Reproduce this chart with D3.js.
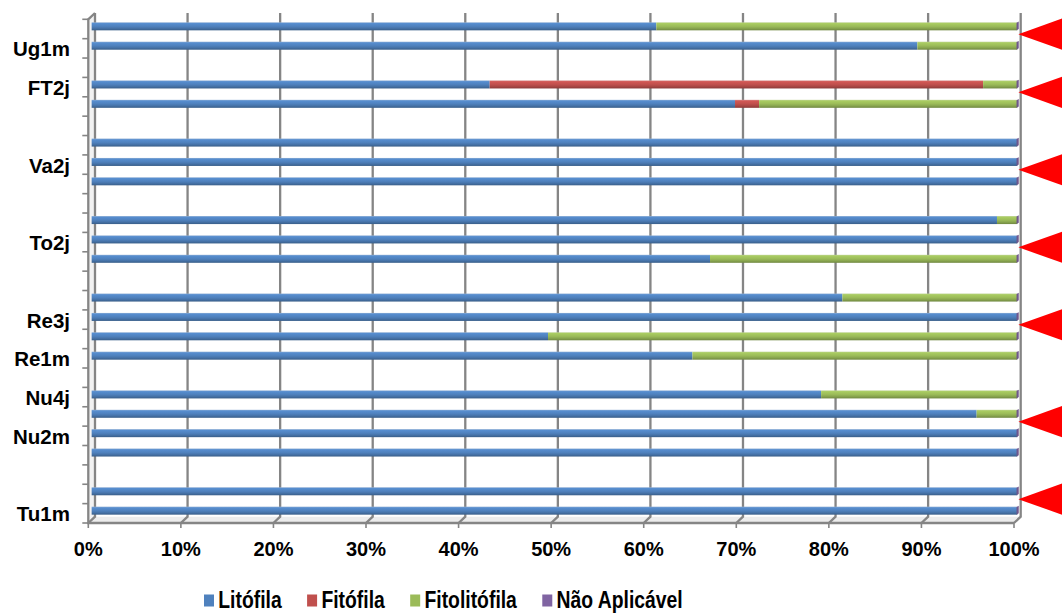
<!DOCTYPE html>
<html>
<head>
<meta charset="utf-8">
<script src="https://cdn.jsdelivr.net/npm/d3@7"></script>
<style>
  html, body { margin: 0; padding: 0; background: #fff; }
  svg { display: block; font-family: "Liberation Sans", Arial, sans-serif; }
</style>
</head>
<body>
<svg id="chart" width="1062" height="613"></svg>
<script>
// Rows listed top to bottom; only every other row carries a visible label
const categories = ["", "Ug1m", "", "FT2j", "", "", "", "Va2j", "", "", "", "To2j", "",
                    "", "", "Re3j", "", "Re1m", "", "Nu4j", "", "Nu2m", "", "", "", "Tu1m"];

const seriesNames = ["Litófila", "Fitófila", "Fitolitófila", "Não Aplicável"];
const seriesColors = ["#4F81BD", "#C0504D", "#9BBB59", "#8064A2"];

// Percent shares per row
const litofila     = [61.0, 89.2, 0, 43.0, 69.5, 0, 100, 100, 100, 0, 97.8, 100, 66.8,
                      0, 81.1, 100, 49.3, 64.9, 0, 78.8, 95.6, 100, 100, 0, 100, 100];
const fitofila     = [0, 0, 0, 53.3, 2.6, 0, 0, 0, 0, 0, 0, 0, 0,
                      0, 0, 0, 0, 0, 0, 0, 0, 0, 0, 0, 0, 0];
const fitolitofila = [39.0, 10.8, 0, 3.7, 27.9, 0, 0, 0, 0, 0, 2.2, 0, 33.2,
                      0, 18.9, 0, 50.7, 35.1, 0, 21.2, 4.4, 0, 0, 0, 0, 0];
const naoAplicavel = [0, 0, 0, 0, 0, 0, 0, 0, 0, 0, 0, 0, 0,
                      0, 0, 0, 0, 0, 0, 0, 0, 0, 0, 0, 0, 0];

const xTicks = [0, 0.1, 0.2, 0.3, 0.4, 0.5, 0.6, 0.7, 0.8, 0.9, 1.0];

// Pointer markers: placed on the boundary above the given row
const markerRows = [1, 4, 8, 12, 16, 21, 25];

const rows = categories.map((c, i) => ({
  idx: i,
  "Litófila": litofila[i],
  "Fitófila": fitofila[i],
  "Fitolitófila": fitolitofila[i],
  "Não Aplicável": naoAplicavel[i]
}));

const svg = d3.select("#chart");

// Front plane of the 3D box and the depth offset to its back wall
const plot = { left: 88.3, right: 1014, top: 19.3, bottom: 523 };
const depth = { dx: 6.7, dy: -6.3 };

const x = d3.scaleLinear().domain([0, 1]).range([plot.left, plot.right]);
const y = d3.scaleBand().domain(d3.range(categories.length)).range([plot.top, plot.bottom]);
const step = y.step();

const stack = d3.stack().keys(seriesNames).offset(d3.stackOffsetExpand);
const stacked = stack(rows);

// Gradients giving the bars a lit top and shaded underside
const defs = svg.append("defs");
seriesColors.forEach((c, k) => {
  const base = d3.color(c);
  const g = defs.append("linearGradient")
    .attr("id", "grad" + k).attr("x1", 0).attr("y1", 0).attr("x2", 0).attr("y2", 1);
  g.append("stop").attr("offset", "0%").attr("stop-color", d3.interpolateRgb(c, "#ffffff")(0.35));
  g.append("stop").attr("offset", "15%").attr("stop-color", base.brighter(0.25).formatHex());
  g.append("stop").attr("offset", "50%").attr("stop-color", c);
  g.append("stop").attr("offset", "72%").attr("stop-color", base.darker(0.3).formatHex());
  g.append("stop").attr("offset", "100%").attr("stop-color", base.darker(0.9).formatHex());
});

const axisColor = "#858585";

// Floor
svg.append("polygon")
  .attr("points", [
    [x(0), plot.bottom], [x(0) + depth.dx, plot.bottom + depth.dy],
    [x(1) + depth.dx, plot.bottom + depth.dy], [x(1), plot.bottom]
  ].map(p => p.join(",")).join(" "))
  .attr("fill", "#ececec");

// Side wall
svg.append("polygon")
  .attr("points", [
    [x(0), plot.top], [x(0) + depth.dx, plot.top + depth.dy],
    [x(0) + depth.dx, plot.bottom + depth.dy], [x(0), plot.bottom]
  ].map(p => p.join(",")).join(" "))
  .attr("fill", "#f2f2f2");

// Back-wall gridlines and their floor continuation
const grid = svg.append("g").attr("stroke", axisColor).attr("stroke-width", 2.3).attr("fill", "none");
xTicks.forEach(t => {
  grid.append("path")
    .attr("d", `M${x(t) + depth.dx},${plot.top + depth.dy}V${plot.bottom + depth.dy}L${x(t)},${plot.bottom}`);
});

// Front edges of wall and floor
grid.append("path")
  .attr("d", `M${x(0) + depth.dx},${plot.top + depth.dy}L${x(0)},${plot.top}V${plot.bottom}H${x(1)}`);

// Category ticks on the left edge
const yTickPos = d3.range(categories.length + 1).map(i => plot.top + i * step);
svg.append("g").attr("stroke", axisColor).attr("stroke-width", 1.6)
  .selectAll("line").data(yTickPos).join("line")
  .attr("x1", x(0) - 6).attr("x2", x(0)).attr("y1", d => d).attr("y2", d => d);

// Value ticks below the floor edge
svg.append("g").attr("stroke", axisColor).attr("stroke-width", 1.6)
  .selectAll("line").data(xTicks).join("line")
  .attr("x1", d => x(d)).attr("x2", d => x(d))
  .attr("y1", plot.bottom).attr("y2", plot.bottom + 5);

// Bars sit halfway into the depth of the box
const barH = 8;
const bx = depth.dx / 2, by = depth.dy / 2;
const barY = i => y(i) + by + (step - barH) / 2 + 0.5;

const barsG = svg.append("g");
stacked.forEach((s, k) => {
  barsG.append("g")
    .selectAll("rect")
    .data(s.filter(d => d[1] - d[0] > 0))
    .join("rect")
    .attr("x", d => x(d[0]) + bx)
    .attr("width", d => x(d[1]) - x(d[0]))
    .attr("y", d => barY(d.data.idx))
    .attr("height", barH)
    .attr("fill", `url(#grad${k})`);
});

// End faces of the bars, in the last series colour
const filledRows = rows.filter(r => seriesNames.some(n => r[n] > 0));
barsG.append("g").selectAll("polygon").data(filledRows).join("polygon")
  .attr("points", r => {
    const xe = x(1) + bx, yt = barY(r.idx), yb = yt + barH;
    return [[xe - 0.8, yt + 0.4], [xe + 1.4, yt - 0.8], [xe + 1.4, yb - 1.4], [xe - 0.8, yb]]
      .map(p => p.join(",")).join(" ");
  })
  .attr("fill", d3.color(seriesColors[3]).darker(0.4).formatHex());

// Category labels
svg.append("g")
  .selectAll("text").data(categories.map((c, i) => ({ c, i })).filter(d => d.c))
  .join("text")
  .attr("x", 70)
  .attr("y", d => y(d.i) + step / 2 + 8)
  .attr("text-anchor", "end")
  .attr("font-size", 20.5).attr("font-weight", "bold").attr("fill", "#000")
  .text(d => d.c);

// Value labels
const fmt = d3.format(".0%");
svg.append("g")
  .selectAll("text").data(xTicks).join("text")
  .attr("x", d => x(d))
  .attr("y", 556)
  .attr("text-anchor", "middle")
  .attr("font-size", 20).attr("font-weight", "bold").attr("fill", "#000")
  .text(d => fmt(d));

// Pointer markers on the right
svg.append("g").selectAll("polygon").data(markerRows).join("polygon")
  .attr("points", r => {
    const ty = plot.top + r * step - 4.5, tx = x(1) + bx + 1;
    return [[tx, ty], [tx + 70, ty - 25], [tx + 70, ty + 25]].map(p => p.join(",")).join(" ");
  })
  .attr("fill", "#ff0000");

// Legend
const legend = svg.append("g");
let lx = 204;
seriesNames.forEach((name, k) => {
  legend.append("rect")
    .attr("x", lx).attr("y", 594.5).attr("width", 10).attr("height", 12)
    .attr("fill", seriesColors[k]);
  const t = legend.append("text")
    .attr("transform", `translate(${lx + 14.3},607.5) scale(0.79,1)`)
    .attr("font-size", 24.5).attr("font-weight", "bold").attr("fill", "#000")
    .text(name);
  const w = t.node().getComputedTextLength() * 0.79;
  lx = lx + 14.3 + w + 25.4;
});
</script>
</body>
</html>
